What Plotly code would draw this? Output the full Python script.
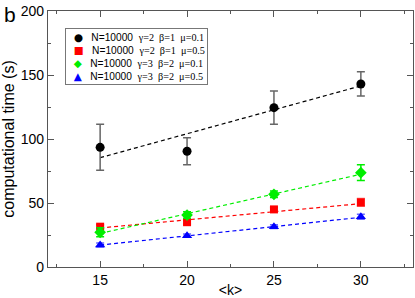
import plotly.graph_objects as go

k_values = [15, 20, 25, 30]

black_y = [93.5, 90.4, 124.5, 143.0]
black_err = [18.0, 10.5, 13.0, 9.5]
red_y = [31.5, 35.0, 45.0, 50.5]
red_err = [1.5, 1.5, 1.5, 3.0]
green_y = [27.1, 40.6, 56.8, 73.7]
green_err = [3.5, 2.5, 2.5, 6.2]
blue_y = [17.2, 24.5, 31.5, 39.3]
blue_err = [1.5, 1.2, 1.5, 2.0]

fit_k = [15, 30]
black_fit = [85.4, 141.5]
red_fit = [30.5, 49.5]
green_fit = [26.2, 72.5]
blue_fit = [17.1, 38.8]

legend_params = [
    ("γ=2", "β=1", "μ=0.1"),
    ("γ=2", "β=1", "μ=0.5"),
    ("γ=3", "β=2", "μ=0.1"),
    ("γ=3", "β=2", "μ=0.5"),
]
legend_n = "N=10000"
legend_glyphs = ["●", "■", "◆", "▲"]

series = [
    (black_y, black_err, black_fit, "black", "#666666", "circle", 9),
    (red_y, red_err, red_fit, "#ff0000", "#ff6666", "square", 8),
    (green_y, green_err, green_fit, "#00ee00", "#00ee00", "diamond", 9),
    (blue_y, blue_err, blue_fit, "#0000ff", "#6666ff", "triangle-up", 9),
]

fig = go.Figure()
for (y, e, fit, col, ecol, sym, sz) in series:
    fig.add_trace(go.Scatter(
        x=fit_k, y=fit, mode="lines", showlegend=False,
        line=dict(color=col, width=1.2, dash="4px,3px"), hoverinfo="skip"))
for (y, e, fit, col, ecol, sym, sz), p in zip(series, legend_params):
    fig.add_trace(go.Scatter(
        x=k_values, y=y, mode="markers", name=f"{legend_n} {' '.join(p)}",
        showlegend=False,
        marker=dict(color=col, symbol=sym, size=sz),
        error_y=dict(type="data", array=e, visible=True, color=ecol,
                     thickness=1.5, width=4)))

axis_common = dict(
    showline=True, linecolor="#555555", linewidth=1.2, mirror="ticks",
    ticks="inside", ticklen=6, tickcolor="#555555", tickwidth=1,
    showgrid=False, zeroline=False, automargin=False,
    tickfont=dict(family="Liberation Sans, Arial", size=14, color="black"),
)

fig.update_layout(
    width=415, height=298,
    margin=dict(l=48, r=2, t=11, b=31),
    paper_bgcolor="white", plot_bgcolor="white",
    font=dict(family="Liberation Sans, Arial", color="black"),
    xaxis=dict(range=[12, 33], tickvals=[15, 20, 25, 30],
               minor=dict(tickvals=[12.5, 17.5, 22.5, 27.5, 32.5], ticks="inside",
                          ticklen=3, tickcolor="#555555"),
               title=dict(text="&lt;k&gt;", font=dict(size=14), standoff=0),
               **axis_common),
    yaxis=dict(range=[0, 200], tickvals=[0, 50, 100, 150, 200],
               minor=dict(tickvals=[25, 75, 125, 175], ticks="inside",
                          ticklen=3, tickcolor="#555555"),
               title=dict(text="computational time (s)", font=dict(size=16), standoff=4),
               **axis_common),
)

rows = []
for g, col, p in zip(legend_glyphs, [s[3] for s in series], legend_params):
    serif = "&nbsp; ".join(p)
    rows.append(
        f"&nbsp;&nbsp;<span style='color:{col};font-family:DejaVu Sans;font-size:10.5px'>{g}</span>"
        f"&nbsp;&nbsp;&nbsp;{legend_n}&nbsp; "
        f"<span style='font-family:Liberation Serif'>{serif}</span>")
fig.add_annotation(
    text="<br>".join(rows), xref="paper", yref="paper",
    x=0.047, y=0.934, xanchor="left", yanchor="top", align="left",
    height=51, valign="middle",
    showarrow=False, bordercolor="#777777", borderwidth=1, borderpad=2,
    bgcolor="white", font=dict(size=10.2, family="Liberation Sans, Arial"))

fig.add_annotation(text="b", xref="paper", yref="paper", x=-0.125, y=1.04,
                   xanchor="left", yanchor="top", showarrow=False,
                   font=dict(size=21, family="Liberation Sans, Arial"))

fig.write_html("out.html", config={"displayModeBar": False},
               post_script="document.body.style.margin='0';document.body.style.overflow='hidden';")
